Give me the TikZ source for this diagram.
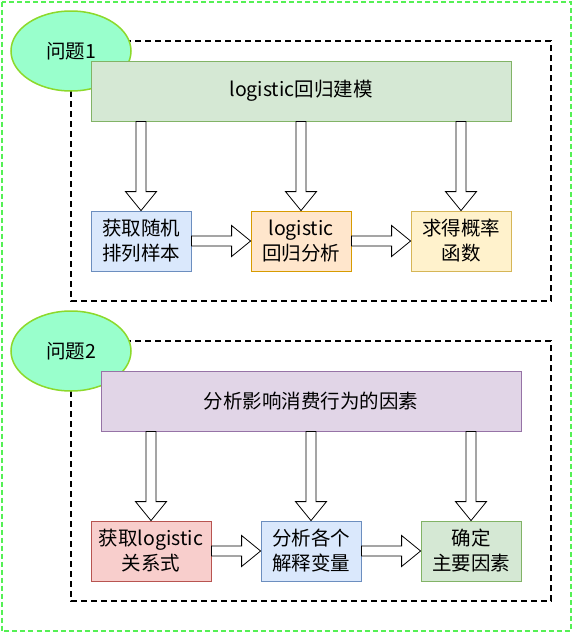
\documentclass[tikz,border=0pt]{standalone}
\usepackage{fontspec}
\setmainfont{Noto Sans CJK SC}
\usepackage{tikz}
\usetikzlibrary{shapes.geometric, positioning, calc}

\definecolor{greenfill}{HTML}{D5E8D4}
\definecolor{greenline}{HTML}{82B366}
\definecolor{bluefill}{HTML}{DAE8FC}
\definecolor{blueline}{HTML}{6C8EBF}
\definecolor{orangefill}{HTML}{FFE6CC}
\definecolor{orangeline}{HTML}{D79B00}
\definecolor{yellowfill}{HTML}{FFF2CC}
\definecolor{yellowline}{HTML}{D6B656}
\definecolor{redfill}{HTML}{F8CECC}
\definecolor{redline}{HTML}{B85450}
\definecolor{purplefill}{HTML}{E1D5E7}
\definecolor{purpleline}{HTML}{9673A6}
\definecolor{qfill}{HTML}{99FFCC}
\definecolor{qline}{HTML}{8CD92B}
\definecolor{outerline}{HTML}{55F055}
\newcommand{\boxfont}{\fontsize{19.5}{25}\selectfont}

\begin{document}
\begin{tikzpicture}[x=1pt, y=-1pt, node distance=150pt]
        \tikzstyle{bar}=[draw, rectangle, line width=0.8pt, minimum width=420pt, minimum height=60pt, font=\boxfont];
        \tikzstyle{prog}=[draw, rectangle, line width=0.8pt, minimum width=100pt, minimum height=60pt, align=center, font=\boxfont];
        \tikzstyle{question}=[draw=qline, fill=qfill, ellipse, line width=1.5pt, minimum width=120pt, minimum height=80pt, font=\boxfont];
        \tikzstyle{frame}=[draw, line width=1.6pt, dash pattern=on 6pt off 4pt];
        \tikzstyle{fat}=[draw=black, fill=white, line width=0.8pt, to path={
          let \p3=($(\tikztotarget)!19pt!(\tikztostart)$) in
          ($(\tikztostart)!5pt!90:(\tikztotarget)$) -- ($(\p3)!5pt!90:(\tikztotarget)$)
          -- ($(\p3)!15.5pt!90:(\tikztotarget)$) -- (\tikztotarget)
          -- ($(\p3)!15.5pt!-90:(\tikztotarget)$) -- ($(\p3)!5pt!-90:(\tikztotarget)$)
          -- ($(\tikztostart)!5pt!-90:(\tikztotarget)$) -- cycle}];

        \useasboundingbox (0,0) rectangle (572,632);
        \draw[outerline, line width=2pt, dash pattern=on 5pt off 3pt] (1.5,1.5) rectangle (570.5,630.5);
        \draw[frame] (71,41) rectangle (551,301);
        \draw[frame] (71,341) rectangle (551,601);

        % question 1
        \node[question] (q1) at (71,51) {问题1};
        \node[bar, fill=greenfill, draw=greenline] (model) at (301,91) {logistic回归建模};
        \node[prog, below of=model, xshift=-160pt, fill=bluefill, draw=blueline] (sample) {获取随机\\排列样本};
        \node[prog, below of=model, fill=orangefill, draw=orangeline] (fit) {logistic\\回归分析};
        \node[prog, below of=model, xshift=160pt, fill=yellowfill, draw=yellowline] (prob) {求得概率\\函数};

        % question 2
        \node[question] (q2) at (71,351) {问题2};
        \node[bar, fill=purplefill, draw=purpleline] (factor) at (311,401) {分析影响消费行为的因素};
        \node[prog, below of=factor, xshift=-160pt, minimum width=120pt, fill=redfill, draw=redline] (rel) {获取logistic\\关系式};
        \node[prog, below of=factor, fill=bluefill, draw=blueline] (var) {分析各个\\解释变量};
        \node[prog, below of=factor, xshift=160pt, fill=greenfill, draw=greenline] (main) {确定\\主要因素};

        \draw[fat] (model.south -| sample.north) to (sample.north);
        \draw[fat] (model.south -| fit.north) to (fit.north);
        \draw[fat] (model.south -| prob.north) to (prob.north);
        \draw[fat] (sample.east) to (fit.west);
        \draw[fat] (fit.east) to (prob.west);

        \draw[fat] (factor.south -| rel.north) to (rel.north);
        \draw[fat] (factor.south -| var.north) to (var.north);
        \draw[fat] (factor.south -| main.north) to (main.north);
        \draw[fat] (rel.east) to (var.west);
        \draw[fat] (var.east) to (main.west);
      \end{tikzpicture}
\end{document}
